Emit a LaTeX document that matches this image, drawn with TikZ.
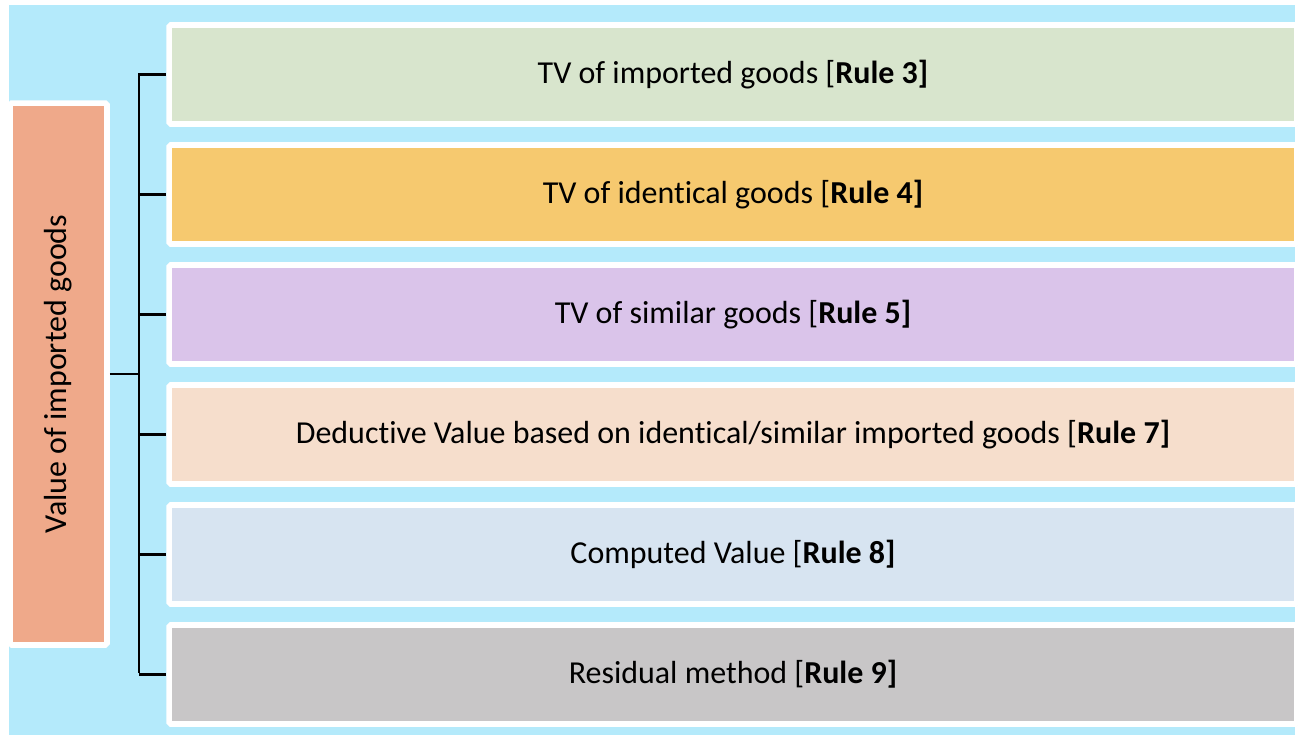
\documentclass[tikz,border=0pt]{standalone}
\usepackage{fontspec}
\setmainfont{Carlito}[Ligatures=CommonOff]
\usetikzlibrary{shadows}
\definecolor{bgblue}{HTML}{B4EAFB}
\definecolor{leftorange}{HTML}{EFA98A}
\definecolor{rgreen}{HTML}{D8E5CD}
\definecolor{rorange}{HTML}{F6C96F}
\definecolor{rviolet}{HTML}{DAC4EA}
\definecolor{rpeach}{HTML}{F6DECC}
\definecolor{rblue}{HTML}{D7E4F1}
\definecolor{rgray}{HTML}{C8C6C7}

\begin{document}
\begin{tikzpicture}[x=0.02cm,y=-0.02cm,
  txt/.style={font=\fontsize{18.2}{21}\selectfont},
  rulebox/.style={draw=white,line width=3.2pt,fill=#1,rounded corners=1pt,
    minimum width=22.56cm,minimum height=1.98cm,txt,
    drop shadow={shadow xshift=0.5pt,shadow yshift=-1.5pt,opacity=0.25}},
  link/.style={line width=1.3pt,black}]
  \useasboundingbox (0,0) rectangle (1303,735);
  \fill[bgblue] (9,5) rectangle (1295,735);
  % left box
  \node[draw=white,line width=3.2pt,fill=leftorange,rounded corners=1pt,
    minimum width=10.84cm,minimum height=1.94cm,rotate=90,txt,
    drop shadow={shadow xshift=1.5pt,shadow yshift=0.5pt,opacity=0.25}]
    (value) at (58.5,374) {Value of imported goods};
  % the six methods
  \node[rulebox=rgreen]  (r3) at (733,74.5)  {TV of imported goods [\textbf{Rule 3]}};
  \node[rulebox=rorange] (r4) at (733,194.5) {TV of identical goods [\textbf{Rule 4]}};
  \node[rulebox=rviolet] (r5) at (733,314.5) {TV of similar goods [\textbf{Rule 5]}};
  \node[rulebox=rpeach]  (r7) at (733,434.5) {Deductive Value based on identical/similar imported goods [\textbf{Rule 7]}};
  \node[rulebox=rblue]   (r8) at (733,554.5) {Computed Value [\textbf{Rule 8]}};
  \node[rulebox=rgray]   (r9) at (733,674.5) {Residual method [\textbf{Rule 9]}};
  % bracket
  \coordinate (top) at (139,73);
  \coordinate (bot) at (139,673);
  \draw[link] (value.south) -- (value.south -| top);
  \draw[link] (top) -- (bot);
  \foreach \r in {r3,r4,r5,r7,r8,r9}
    \draw[link] (\r.west -| top) -- (\r.west);
\end{tikzpicture}
\end{document}
